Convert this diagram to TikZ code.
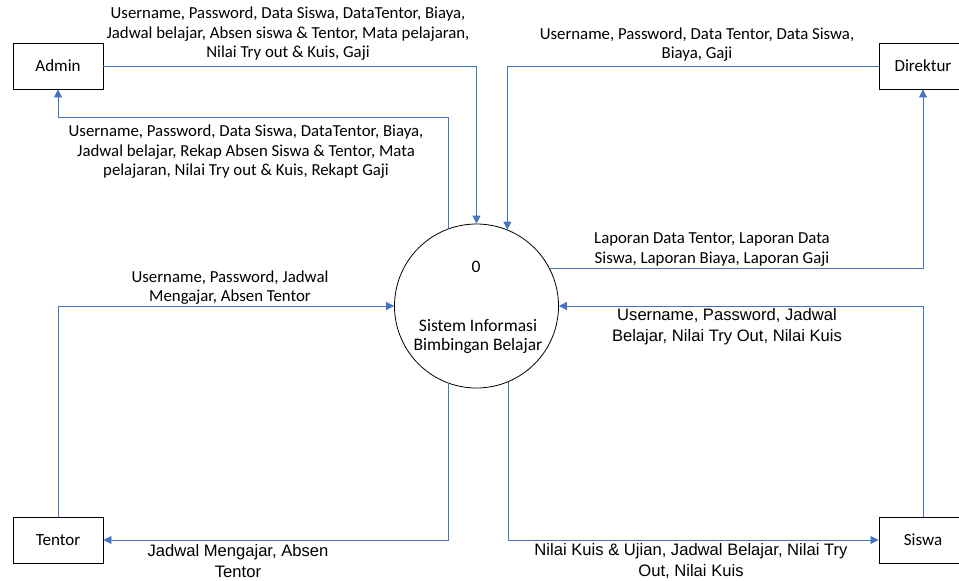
\documentclass[tikz,border=0pt]{standalone}
\usepackage{fontspec}
\setmainfont{Carlito}
\newfontfamily\arialf{Liberation Sans}
\usetikzlibrary{arrows.meta}
\definecolor{flowblue}{HTML}{4472C4}
\tikzset{
  entity/.style={draw=black, line width=0.9pt, minimum height=46pt, inner sep=0pt, font=\fontsize{17}{20}\selectfont},
  proc/.style={draw=black, line width=0.8pt, circle, minimum size=164pt, inner sep=0pt},
  flow/.style={draw=flowblue, line width=0.8pt, -{Triangle[length=8pt,width=8pt]}},
  lbl/.style={align=center, inner sep=0pt, font=\fontsize{16.8}{19.5}\selectfont},
  clbl/.style={align=center, inner sep=0pt, font=\fontsize{17.5}{19.5}\selectfont},
  albl/.style={align=center, inner sep=0pt, font=\arialf\fontsize{16.6}{20.5}\selectfont},
}
\begin{document}
\begin{tikzpicture}[x=1pt,y=-1pt]
\useasboundingbox (0,0) rectangle (959,581);
\node[entity, minimum width=90pt] (admin) at (58,66) {Admin};
\node[entity, minimum width=88pt] (direktur) at (923,66) {Direktur};
\node[entity, minimum width=90pt] (tentor) at (58,540) {Tentor};
\node[entity, minimum width=88pt] (siswa) at (923,540) {Siswa};
\node[proc] (c) at (476.5,306) {};
\node[clbl] (zero) at (476,267) {0};
\node[clbl] (ctext) at (478,336.5) {Sistem Informasi\\Bimbingan Belajar};

\coordinate (a1) at (447,117);
% Admin -> system
\draw[flow] (admin.east) -| (c.north);
% system -> Admin
\draw[flow] (c.110.7) -- (c.110.7 |- a1) -| (admin.south);
% Direktur -> system
\draw[flow] (direktur.west) -| (c.68.5);
% system -> Direktur
\draw[flow] (c.27.6) -| (direktur.south);
% Tentor -> system
\draw[flow] (tentor.north) |- (c.west);
% system -> Tentor
\draw[flow] (c.-110.7) |- (tentor.east);
% Siswa -> system
\draw[flow] (siswa.north) |- (c.east);
% system -> Siswa
\draw[flow] (c.-67.8) |- (siswa.west);

\node[lbl] (l1) at (288,34) {Username, Password, Data Siswa, DataTentor, Biaya,\\Jadwal belajar, Absen siswa \& Tentor, Mata pelajaran,\\Nilai Try out \& Kuis, Gaji};
\node[lbl] (l2) at (246,152) {Username, Password, Data Siswa, DataTentor, Biaya,\\Jadwal belajar, Rekap Absen Siswa \& Tentor, Mata\\pelajaran, Nilai Try out \& Kuis, Rekapt Gaji};
\node[lbl] (l3) at (697,44.5) {Username, Password, Data Tentor, Data Siswa,\\Biaya, Gaji};
\node[lbl] (l4) at (712,249.5) {Laporan Data Tentor, Laporan Data\\Siswa, Laporan Biaya, Laporan Gaji};
\node[albl] (l5) at (727,326.5) {Username, Password, Jadwal\\Belajar, Nilai Try Out, Nilai Kuis};
\node[lbl] (l6) at (230,287.5) {Username, Password, Jadwal\\Mengajar, Absen Tentor};
\node[albl] (l7) at (238,561) {Jadwal Mengajar, Absen\\Tentor};
\node[albl] (l8) at (691,561) {Nilai Kuis \& Ujian, Jadwal Belajar, Nilai Try\\Out, Nilai Kuis};
\end{tikzpicture}
\end{document}
